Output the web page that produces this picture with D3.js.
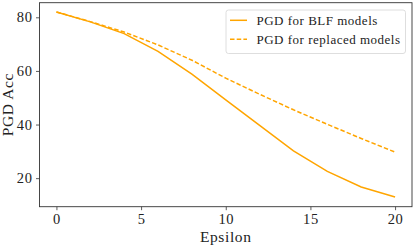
<!DOCTYPE html>
<html lang="en">
    <head>
        <meta charset="utf-8">
        <title>PGD Acc</title>
        <script type="text/javascript" src="https://cdnjs.cloudflare.com/ajax/libs/d3/7.8.5/d3.min.js"></script>
        <style type="text/css">
            body { margin: 0; background: #fff; }
            text { font-family: "Liberation Serif", "DejaVu Serif", serif; fill: #222; }
        </style>
    </head>
    <body>
        <script type="text/javascript">
            var w = 415;
            var h = 246;

            // data
            var epsilon = [0, 2, 4, 6, 8, 10, 12, 14, 16, 18, 20];
            var blfAcc = [82.0, 78.3, 73.9, 67.3, 58.8, 49.2, 39.7, 30.2, 22.5, 16.7, 13.0];
            var replacedAcc = [82.0, 78.4, 74.5, 69.7, 64.0, 57.3, 51.3, 45.5, 40.1, 34.8, 29.7];
            var xTicks = [0, 5, 10, 15, 20];
            var yTicks = [20, 40, 60, 80];
            var seriesNames = ["PGD for BLF models", "PGD for replaced models"];

            var plotL = 39.5, plotR = 412, plotT = 2.7, plotB = 206.7;
            var orange = "#ffa500";

            var x = d3.scaleLinear().domain([-1, 21]).range([plotL, plotR]);
            var y = d3.scaleLinear().domain([9.35, 85.45]).range([plotB, plotT]);

            var svg = d3.select("body")
                        .append("svg")
                        .attr("width", w)
                        .attr("height", h);

            var line = d3.line()
                .x(function(d) { return x(d[0]); })
                .y(function(d) { return y(d[1]); });

            var series = [
                { name: seriesNames[0], values: blfAcc, dash: null },
                { name: seriesNames[1], values: replacedAcc, dash: "4.5,2.2" }
            ];

            svg.append("clipPath").attr("id", "clip")
                .append("rect")
                .attr("x", plotL).attr("y", plotT)
                .attr("width", plotR - plotL).attr("height", plotB - plotT);

            svg.append("g")
               .attr("clip-path", "url(#clip)")
               .selectAll("path")
               .data(series)
               .enter()
               .append("path")
               .attr("d", function(s) {
                   return line(epsilon.map(function(e, i) { return [e, s.values[i]]; }));
               })
               .attr("fill", "none")
               .attr("stroke", orange)
               .attr("stroke-width", 1.5)
               .attr("stroke-dasharray", function(s) { return s.dash; });

            // axes
            var xAxis = d3.axisBottom(x).tickValues(xTicks).tickSize(3.5).tickPadding(4);
            var yAxis = d3.axisLeft(y).tickValues(yTicks).tickSize(3.5).tickPadding(3.5);

            var gx = svg.append("g")
               .attr("transform", "translate(0," + plotB + ")")
               .call(xAxis);
            var gy = svg.append("g")
               .attr("transform", "translate(" + plotL + ",0)")
               .call(yAxis);

            [gx, gy].forEach(function(g) {
                g.select(".domain").remove();
                g.selectAll(".tick line").attr("stroke", "#333").attr("stroke-width", 0.8);
                g.selectAll(".tick text")
                 .attr("font-family", "Liberation Serif, DejaVu Serif, serif")
                 .attr("font-size", "14.5px")
                 .attr("letter-spacing", "0.6px")
                 .attr("fill", "#222");
            });

            svg.append("rect")
               .attr("x", plotL).attr("y", plotT)
               .attr("width", plotR - plotL).attr("height", plotB - plotT)
               .attr("fill", "none")
               .attr("stroke", "#333")
               .attr("stroke-width", 0.9);

            svg.append("text")
               .attr("x", (plotL + plotR) / 2)
               .attr("y", 241.5)
               .attr("text-anchor", "middle")
               .attr("font-size", "15.5px")
               .attr("letter-spacing", "0.6px")
               .text("Epsilon");

            svg.append("text")
               .attr("transform", "translate(13," + ((plotT + plotB) / 2) + ") rotate(-90)")
               .attr("text-anchor", "middle")
               .attr("font-size", "15.5px")
               .attr("letter-spacing", "0.6px")
               .text("PGD Acc");

            // legend
            var legend = svg.append("g");
            legend.append("rect")
               .attr("x", 226).attr("y", 10)
               .attr("width", 179.5).attr("height", 43.5)
               .attr("rx", 2.5)
               .attr("fill", "#fff")
               .attr("fill-opacity", 0.8)
               .attr("stroke", "#d6d6d6")
               .attr("stroke-width", 0.8);

            var items = legend.selectAll("g.item")
               .data(series)
               .enter()
               .append("g")
               .attr("class", "item")
               .attr("transform", function(d, i) { return "translate(0," + (20.3 + i * 19) + ")"; });

            items.append("line")
               .attr("x1", 230).attr("x2", 247)
               .attr("stroke", orange)
               .attr("stroke-width", 1.5)
               .attr("stroke-dasharray", function(s) { return s.dash; });

            items.append("text")
               .attr("x", 256.5)
               .attr("y", 4.3)
               .attr("font-size", "13px")
               .attr("letter-spacing", "0.5px")
               .text(function(s) { return s.name; });
        </script>
    </body>
</html>
